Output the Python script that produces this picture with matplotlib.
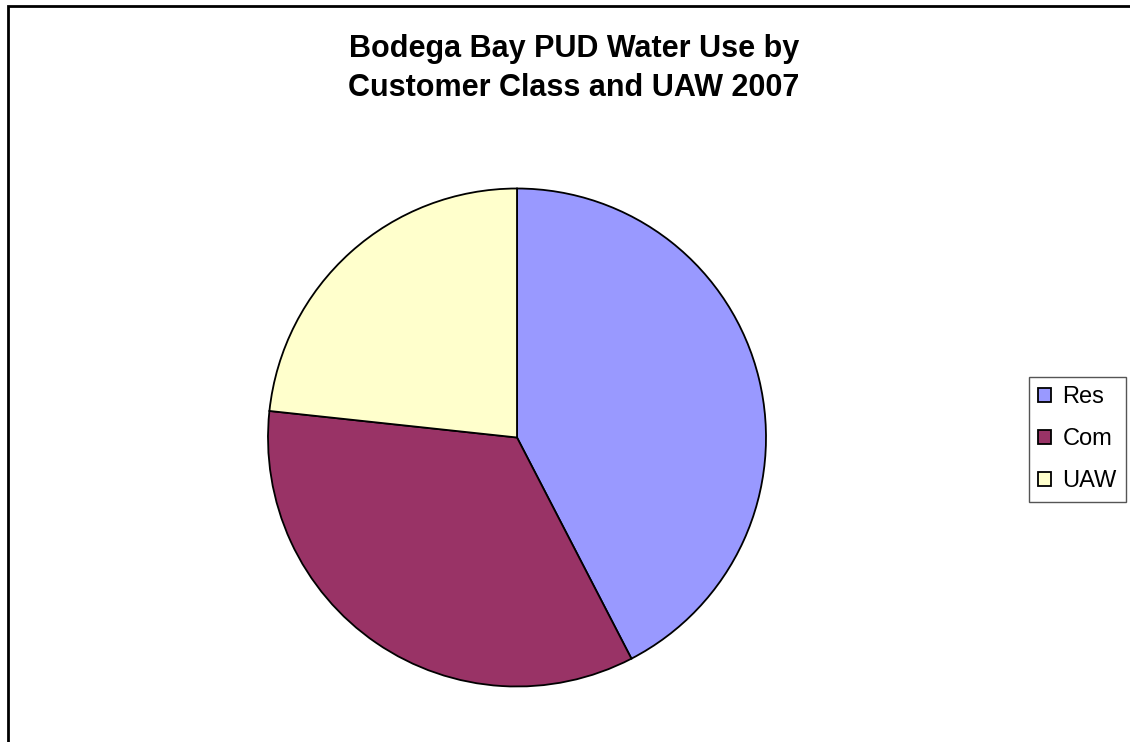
import matplotlib.pyplot as plt
from matplotlib.patches import Rectangle

# water use shares (percent)
labels = ['Res', 'Com', 'UAW']
shares = [42.4, 34.3, 23.3]
colors = ['#9999FF', '#993366', '#FFFFCC']
title_lines = ['Bodega Bay PUD Water Use by', 'Customer Class and UAW 2007']

W, H = 1130, 742
fig = plt.figure(figsize=(W / 100, H / 100), dpi=100)
plt.rcParams['font.family'] = ['Liberation Sans', 'DejaVu Sans']

# chart area border (runs off right and bottom edges)
fig.patches.append(Rectangle((8 / W, -0.1), 1.2, 1 - 5.5 / H + 0.1,
                             transform=fig.transFigure, fill=False,
                             edgecolor='black', linewidth=2))

cx, cy, r = 517, 437.5, 249
ax = fig.add_axes([(cx - r) / W, (H - cy - r) / H, 2 * r / W, 2 * r / H])
wedges, _ = ax.pie(shares, colors=colors, startangle=90, counterclock=False,
                   wedgeprops=dict(edgecolor='black', linewidth=1.3))
ax.set_xlim(-1, 1)
ax.set_ylim(-1, 1)

# title, two lines placed by baseline
for line, base in zip(title_lines, [57, 96]):
    fig.text(574 / W, 1 - base / H, line, ha='center', va='baseline',
             fontsize=22, fontweight='bold')

leg = fig.legend(wedges, labels, loc='upper left',
                 bbox_to_anchor=(1029 / W, 1 - 377 / H), borderaxespad=0,
                 fontsize=17, handlelength=0.52, handleheight=0.55,
                 handletextpad=0.5, labelspacing=0.84, borderpad=0.4,
                 fancybox=False, framealpha=1)
leg.get_frame().set_edgecolor('#555555')
leg.get_frame().set_linewidth(1)

fig.savefig('out.png', dpi=100)
